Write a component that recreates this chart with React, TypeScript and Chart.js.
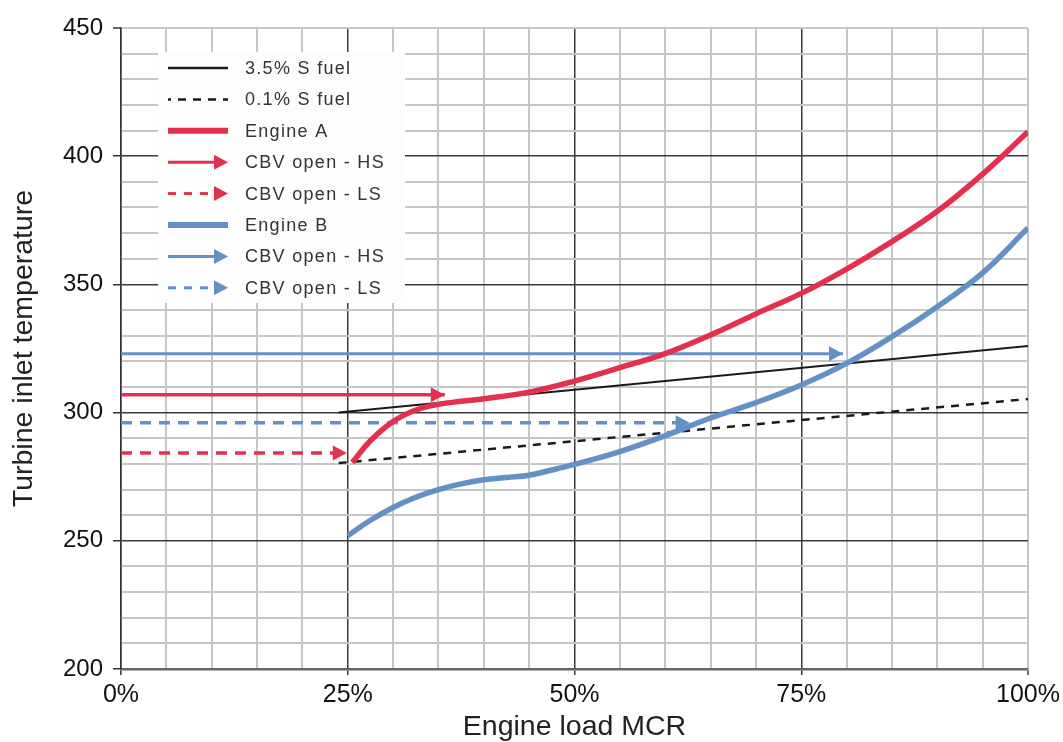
import React, { useEffect, useRef } from "react";
import { Chart, registerables } from "chart.js";

Chart.register(...registerables);

// ---- data ----
const xMajorTicks = [0, 25, 50, 75, 100];
const yMajorTicks = [200, 250, 300, 350, 400, 450];

const fuel35X = [24, 100];
const fuel35Y = [300, 326];

const fuel01X = [24, 100];
const fuel01Y = [280.3, 305.3];

const engineAX = [25.5, 27.5, 30, 32.5, 35, 37.5, 40, 45, 50, 55, 60, 65, 70, 75, 80, 85, 90, 95, 100];
const engineAY = [280.5, 289, 296.5, 301, 303.2, 304.4, 305.4, 308, 312.3, 317.5, 323, 330.3, 338.5, 346.5, 356, 366.7, 378.5, 393, 409.5];

const engineBX = [25, 27.5, 30, 32.5, 35, 37.5, 40, 42.5, 45, 47.5, 50, 55, 60, 65, 70, 75, 80, 85, 90, 95, 100];
const engineBY = [252, 258, 263, 267, 270, 272.2, 273.8, 274.7, 275.6, 277.6, 279.8, 284.8, 291, 297.9, 303.9, 310.8, 319.2, 329.6, 341.3, 354.5, 372];

const cbvAHsX = [0, 35.7];
const cbvAHsY = [307, 307];
const cbvALsX = [0, 24.9];
const cbvALsY = [284.2, 284.2];
const cbvBHsX = [0, 79.6];
const cbvBHsY = [323, 323];
const cbvBLsX = [0, 62.7];
const cbvBLsY = [296, 296];

const RED = "#e4304f";
const BLUE = "#6490c8";
const FONT = '"Liberation Sans", Arial, Helvetica, sans-serif';

const zip = (xs: number[], ys: number[]) => xs.map((x, i) => ({ x, y: ys[i] }));

function drawHead(ctx: CanvasRenderingContext2D, tipX: number, y: number, color: string, len = 14, half = 7.5) {
  ctx.save();
  ctx.setLineDash([]);
  ctx.fillStyle = color;
  ctx.beginPath();
  ctx.moveTo(tipX, y);
  ctx.lineTo(tipX - len, y - half);
  ctx.lineTo(tipX - len, y + half);
  ctx.closePath();
  ctx.fill();
  ctx.restore();
}

const arrowPlugin = {
  id: "arrowHeads",
  afterDatasetDraw(chart: any, args: any) {
    const ds = chart.data.datasets[args.index];
    if (!ds.arrowHead) return;
    const pts = args.meta.data;
    const last = pts[pts.length - 1];
    const ctx = chart.ctx;
    ctx.save();
    const a = chart.chartArea;
    ctx.beginPath();
    ctx.rect(a.left, a.top, a.right - a.left, a.bottom - a.top);
    ctx.clip();
    drawHead(ctx, last.x, last.y, ds.borderColor);
    ctx.restore();
  },
};

const legendPlugin = {
  id: "boxLegend",
  beforeDatasetsDraw(chart: any) {
    const { ctx, chartArea } = chart;
    const left = chartArea.left + 37;
    const top = chartArea.top + 24;
    const w = 247;
    const h = 251;
    ctx.save();
    ctx.fillStyle = "#fdfdfd";
    ctx.fillRect(left, top, w, h);
    chart.data.datasets.forEach((ds: any, i: number) => {
      const y = top + 16 + i * 31.4;
      const x0 = left + 10;
      const x1 = left + 70;
      ctx.save();
      ctx.strokeStyle = ds.borderColor;
      ctx.lineWidth = ds.legendWidth ?? ds.borderWidth;
      ctx.setLineDash(ds.legendDash ?? []);
      ctx.lineDashOffset = ds.legendDashOffset ?? 0;
      ctx.lineCap = "butt";
      ctx.beginPath();
      ctx.moveTo(x0, y);
      ctx.lineTo(ds.arrowHead ? x1 - 8 : x1, y);
      ctx.stroke();
      ctx.restore();
      if (ds.arrowHead) drawHead(ctx, x1, y, ds.borderColor);
      ctx.save();
      ctx.fillStyle = "#333";
      ctx.font = `18px ${FONT}`;
      (ctx as any).letterSpacing = "1.3px";
      ctx.textBaseline = "middle";
      ctx.textAlign = "left";
      ctx.fillText(ds.label, left + 87, y + 1);
      ctx.restore();
    });
    ctx.restore();
  },
};

export default function App() {
  const ref = useRef<HTMLCanvasElement | null>(null);

  useEffect(() => {
    if (!ref.current) return;
    const line = (label: string, xs: number[], ys: number[], extra: any) => ({
      label,
      data: zip(xs, ys),
      pointRadius: 0,
      pointHoverRadius: 0,
      fill: false,
      ...extra,
    });

    const datasets: any[] = [
      line("3.5% S fuel", fuel35X, fuel35Y, { borderColor: "#1a1a1a", borderWidth: 2, order: 3, legendWidth: 2.5 }),
      line("0.1% S fuel", fuel01X, fuel01Y, {
        borderColor: "#1a1a1a", borderWidth: 2.5, borderDash: [8, 7], order: 3,
        legendDash: [8, 7], legendDashOffset: 5, legendWidth: 2.5,
      }),
      line("Engine A", engineAX, engineAY, { borderColor: RED, borderWidth: 5.5, tension: 0.4, order: 0, legendWidth: 6 }),
      line("CBV open - HS", cbvAHsX, cbvAHsY, { borderColor: RED, borderWidth: 3.5, order: 1, arrowHead: true, legendWidth: 3 }),
      line("CBV open - LS", cbvALsX, cbvALsY, { borderColor: RED, borderWidth: 3.5, borderDash: [11, 8], order: 1, arrowHead: true, legendDash: [8, 8], legendWidth: 3 }),
      line("Engine B", engineBX, engineBY, { borderColor: BLUE, borderWidth: 5.5, tension: 0.4, order: 0, legendWidth: 6 }),
      line("CBV open - HS", cbvBHsX, cbvBHsY, { borderColor: BLUE, borderWidth: 3, order: 1, arrowHead: true, legendWidth: 3 }),
      line("CBV open - LS", cbvBLsX, cbvBLsY, { borderColor: BLUE, borderWidth: 3.5, borderDash: [11, 8], order: 1, arrowHead: true, legendDash: [8, 8], legendWidth: 3 }),
    ];

    const GRAY = "#c6c6c6";
    const DARK = "#3a3a3a";

    const chart = new Chart(ref.current, {
      type: "line",
      data: { datasets },
      plugins: [legendPlugin, arrowPlugin],
      options: {
        animation: false,
        responsive: false,
        devicePixelRatio: 1,
        layout: { padding: { top: 28, right: 35, bottom: 0, left: 0 } },
        plugins: { legend: { display: false }, tooltip: { enabled: false } },
        scales: {
          x: {
            type: "linear",
            min: 0,
            max: 100,
            afterFit(scale: any) {
              scale.height = 73;
              scale.paddingRight = 0;
              scale.paddingLeft = 0;
            },
            ticks: {
              stepSize: 5,
              autoSkip: false,
              maxRotation: 0,
              padding: 5,
              color: "#111",
              font: { family: FONT, size: 25 },
              callback: (v: any) => (xMajorTicks.includes(Number(v)) ? `${v}%` : ""),
            },
            grid: {
              color: (c: any) => (c.tick && c.tick.value % 25 === 0 && c.tick.value !== 100 ? DARK : GRAY),
              lineWidth: (c: any) => (c.tick && c.tick.value % 25 === 0 && c.tick.value !== 100 ? 1.5 : 2),
              tickColor: (c: any) => (c.tick && xMajorTicks.includes(c.tick.value) ? "#333" : "rgba(0,0,0,0)"),
              tickLength: 6,
              tickWidth: 1.5,
            },
            border: { color: "#666", width: 2.5 },
            title: {
              display: true,
              text: "Engine load MCR",
              color: "#222",
              font: { family: FONT, size: 28.5, lineHeight: 1.05 },
              padding: { top: 0, bottom: 0 },
            },
          },
          y: {
            type: "linear",
            min: 200,
            max: 450,
            afterFit(scale: any) {
              scale.width = 121;
            },
            ticks: {
              stepSize: 10,
              autoSkip: false,
              padding: 10,
              color: "#111",
              font: { family: FONT, size: 24 },
              callback: (v: any) => (yMajorTicks.includes(Number(v)) ? `${v}` : ""),
            },
            grid: {
              color: (c: any) => (c.tick && c.tick.value % 50 === 0 && c.tick.value !== 450 ? DARK : GRAY),
              lineWidth: (c: any) => (c.tick && c.tick.value % 50 === 0 && c.tick.value !== 450 ? 1.5 : 2),
              tickColor: (c: any) => (c.tick && yMajorTicks.includes(c.tick.value) ? "#333" : "rgba(0,0,0,0)"),
              tickLength: 8,
              tickWidth: 1.5,
            },
            border: { color: "#333", width: 1.5 },
            title: {
              display: true,
              text: "Turbine inlet temperature",
              color: "#222",
              font: { family: FONT, size: 28.5, lineHeight: 1.1 },
              padding: { top: 8, bottom: 0 },
            },
          },
        },
      } as any,
    });
    return () => chart.destroy();
  }, []);

  return (
    <div style={{ position: "absolute", left: 0, top: 0, width: 1063, height: 742, background: "#fff" }}>
      <canvas ref={ref} width={1063} height={742} style={{ display: "block" }} />
    </div>
  );
}
